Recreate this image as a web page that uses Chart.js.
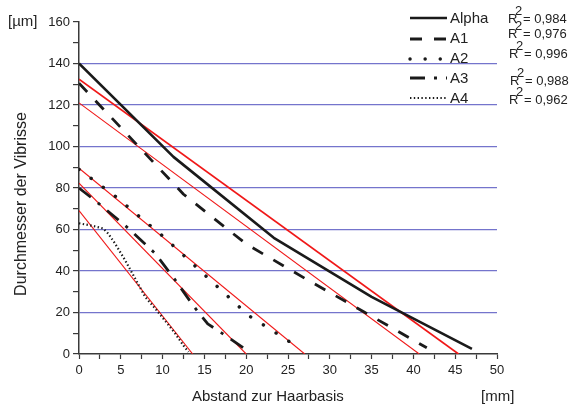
<!DOCTYPE html>
<html>
<head>
<meta charset="utf-8">
<script src="https://cdn.jsdelivr.net/npm/chart.js@4"></script>
<style>
html,body{margin:0;padding:0;background:#fff;}
#wrap{width:569px;height:408px;position:relative;}
</style>
</head>
<body>
<div id="wrap"><canvas id="c" width="569" height="408"></canvas></div>
<script>
// ---- data ----
const seriesNames = ['Alpha', 'A1', 'A2', 'A3', 'A4'];
const r2Labels = ['0,984', '0,976', '0,996', '0,988', '0,962'];

const alphaX = [0, 11.3, 23.3, 35, 47];
const alphaY = [140, 95, 56, 27.5, 2.5];

const a1X = [0, 12.5, 20, 27, 34, 41.6];
const a1Y = [130.5, 77, 53, 36.5, 20.5, 3];

const a2X = [0, 4.4, 10.2, 14.5, 20.3, 23.2, 26.1];
const a2Y = [89, 75.8, 56.2, 40.1, 18.5, 11.1, 3.5];

const a3X = [0, 2, 5.9, 9.1, 11.5, 13.7, 15.4, 17.6, 20];
const a3Y = [80, 73.7, 60.6, 48.5, 35.7, 23.1, 14.5, 8.7, 2];

const a4X = [0, 1.7, 2.9, 3.5, 4.3, 5.5, 6.7, 7.9, 9.1, 10.3, 11.5, 12.6, 13.1];
const a4Y = [63, 61.7, 60.5, 58, 53.3, 45.3, 36.5, 27.6, 22, 16, 9.9, 3.5, 1];

// regression lines: value at x=0 and x where the line reaches 0
const fitIntercept = [132.4, 121, 89.5, 82.3, 69.1];
const fitRoot = [45.4, 40.7, 27, 20, 13.6];

const xTicksMax = 50;
const yTicksMax = 160;

// ---- build ----
const pts = (xs, ys) => xs.map((x, i) => ({x: x, y: ys[i]}));
const FONT = '"Liberation Sans", Arial, Helvetica, sans-serif';
const INK = '#1a1a1a';

const seriesStyles = [
  {borderDash: [], borderWidth: 2.6, cap: 'butt'},
  {borderDash: [12, 12], borderWidth: 2.8, cap: 'butt'},
  {borderDash: [0.1, 15], borderWidth: 3.4, cap: 'round'},
  {borderDash: [15, 9, 3, 9], borderWidth: 2.8, cap: 'butt'},
  {borderDash: [1.4, 2.4], borderWidth: 2.2, cap: 'butt'}
];
const seriesData = [pts(alphaX, alphaY), pts(a1X, a1Y), pts(a2X, a2Y), pts(a3X, a3Y), pts(a4X, a4Y)];

const datasets = [];
seriesData.forEach((d, i) => {
  datasets.push({
    label: seriesNames[i],
    data: d,
    borderColor: INK,
    borderWidth: seriesStyles[i].borderWidth,
    borderDash: seriesStyles[i].borderDash,
    borderCapStyle: seriesStyles[i].cap,
    borderJoinStyle: 'round',
    pointRadius: 0,
    tension: 0,
    fill: false
  });
});
fitIntercept.forEach((b, i) => {
  datasets.push({
    label: 'fit ' + seriesNames[i],
    data: [{x: 0, y: b}, {x: fitRoot[i], y: 0}],
    borderColor: '#f01818',
    borderWidth: i === 0 ? 1.7 : 1.1,
    pointRadius: 0,
    tension: 0,
    fill: false
  });
});

const textPlugin = {
  id: 'texts',
  afterDraw(chart) {
    const ctx = chart.ctx;
    ctx.save();
    ctx.fillStyle = '#222';
    ctx.textAlign = 'left';
    ctx.textBaseline = 'alphabetic';
    ctx.font = '15px ' + FONT;
    ctx.fillText('[µm]', 8, 26);
    ctx.fillText('Abstand zur Haarbasis', 192, 401);
    ctx.fillText('[mm]', 481, 401);
    // y title
    ctx.save();
    ctx.translate(22, 204);
    ctx.rotate(-Math.PI / 2);
    ctx.textAlign = 'center';
    ctx.textBaseline = 'middle';
    ctx.font = '16px ' + FONT;
    ctx.fillText('Durchmesser der Vibrisse', 0, 0);
    ctx.restore();

    // legend
    const sampleY = [18, 39, 59, 78, 98];
    const labelBase = [23, 43, 63, 83, 103];
    const rBase = [23, 38, 58, 85, 104];
    const rX = [508, 508, 509, 510, 509];
    seriesNames.forEach((name, i) => {
      const st = seriesStyles[i];
      ctx.save();
      ctx.strokeStyle = INK;
      ctx.lineWidth = st.borderWidth;
      ctx.lineCap = st.cap;
      ctx.setLineDash(st.borderDash);
      ctx.beginPath();
      ctx.moveTo(410, sampleY[i]);
      ctx.lineTo(447, sampleY[i]);
      ctx.stroke();
      ctx.restore();
      ctx.font = '15px ' + FONT;
      ctx.fillText(name, 450, labelBase[i]);
      ctx.font = '13px ' + FONT;
      ctx.fillText('R', rX[i], rBase[i]);
      ctx.fillText('2', rX[i] + 7, rBase[i] - 8);
      ctx.fillText('= ' + r2Labels[i], rX[i] + 15, rBase[i]);
    });
    ctx.restore();
  }
};

new Chart(document.getElementById('c'), {
  type: 'line',
  data: {datasets: datasets},
  options: {
    responsive: false,
    animation: false,
    devicePixelRatio: 1,
    layout: {padding: {left: 0, right: 72, top: 22, bottom: 0}},
    plugins: {legend: {display: false}, tooltip: {enabled: false}, title: {display: false}},
    scales: {
      x: {
        type: 'linear',
        min: 0, max: xTicksMax,
        afterFit(s) { s.height = 54; },
        border: {display: true, color: '#3a3a3a', width: 1.5},
        grid: {drawOnChartArea: false, drawTicks: true, tickLength: 5, color: '#3a3a3a', tickColor: '#3a3a3a', tickWidth: 1.2},
        ticks: {
          stepSize: 2.5, autoSkip: false, maxRotation: 0, padding: 4,
          color: '#222', font: {family: FONT, size: 13},
          callback: v => (Math.abs(v % 5) < 1e-9 ? String(v) : '')
        }
      },
      y: {
        type: 'linear',
        min: 0, max: yTicksMax,
        afterFit(s) { s.width = 79; },
        border: {display: true, color: '#3a3a3a', width: 1.5},
        grid: {
          drawOnChartArea: true, drawTicks: true, tickLength: 6, tickWidth: 1.2,
          tickColor: '#3a3a3a',
          lineWidth: 1.2,
          color: c => {
            const v = c.tick ? c.tick.value : -1;
            return (v % 20 === 0 && v > 0 && v < yTicksMax) ? '#7474cc' : 'rgba(0,0,0,0)';
          }
        },
        ticks: {
          stepSize: 10, autoSkip: false, padding: 3,
          color: '#222', font: {family: FONT, size: 13},
          callback: v => (v % 20 === 0 ? String(v) : '')
        }
      }
    }
  },
  plugins: [textPlugin]
});
</script>
</body>
</html>
